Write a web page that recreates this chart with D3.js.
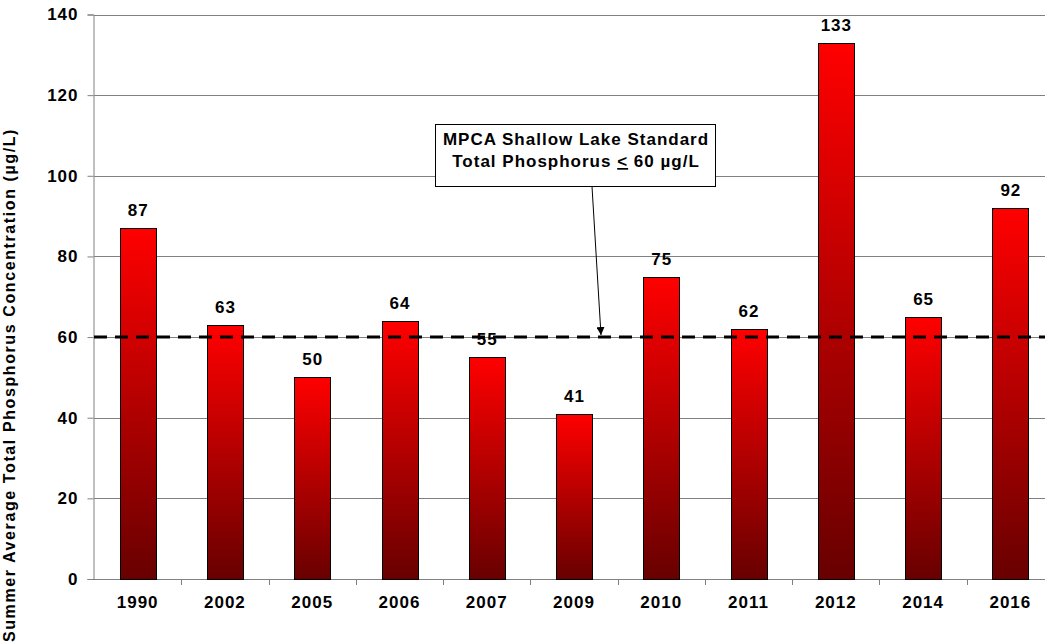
<!DOCTYPE html>
<html><head><meta charset="utf-8">
<script src="https://cdn.jsdelivr.net/npm/d3@7"></script>
<style>
html,body{margin:0;padding:0;background:#fff;overflow:hidden}
text{font-family:"Liberation Sans",Arial,sans-serif;font-weight:bold;fill:#000;letter-spacing:1px}
</style></head>
<body><svg id="c" width="1045" height="643"></svg>
<script>
const years = ["1990","2002","2005","2006","2007","2009","2010","2011","2012","2014","2016"];
const values = [87,63,50,64,55,41,75,62,133,65,92];
const yTicks = [0,20,40,60,80,100,120,140];
const standard = 60;
const yTitle = "Summer Average Total Phosphorus  Concentration (µg/L)";

const svg = d3.select("#c");
const pLeft = 94, pRight = 1054, pTop = 14.5, pBottom = 579;
const x = d3.scaleBand().domain(years).range([pLeft,pRight]).paddingInner(0.59).paddingOuter(0.295);
const xb = d3.scaleBand().domain(years).range([pLeft,pRight]);
const y = d3.scaleLinear().domain([0,140]).range([pBottom,pTop]);

const defs = svg.append("defs");
const g = defs.append("linearGradient").attr("id","bg").attr("x1",0).attr("y1",0).attr("x2",0).attr("y2",1);
g.append("stop").attr("offset","0%").attr("stop-color","#ff0000");
g.append("stop").attr("offset","100%").attr("stop-color","#680000");
const mk = defs.append("marker").attr("id","ah").attr("viewBox","0 0 10 10").attr("refX",10).attr("refY",5)
  .attr("markerWidth",8).attr("markerHeight",8).attr("markerUnits","userSpaceOnUse").attr("orient","auto");
mk.append("path").attr("d","M0,0 L10,5 L0,10 Z").attr("fill","#000");

// grid
svg.append("g").selectAll("line").data(yTicks.filter(d=>d>0)).join("line")
  .attr("x1",pLeft).attr("x2",1045).attr("y1",d=>Math.round(y(d))+0.5).attr("y2",d=>Math.round(y(d))+0.5)
  .attr("stroke","#808080").attr("stroke-width",1);

// y axis
const ya = svg.append("g").attr("transform",`translate(${pLeft-0.5},0)`)
  .call(d3.axisLeft(y).tickValues(yTicks).tickSize(6).tickPadding(9));
ya.select(".domain").attr("stroke","#808080");
ya.selectAll(".tick line").attr("stroke","#808080");
ya.selectAll("text").style("font-size","17px").style("font-family","'Liberation Sans',Arial,sans-serif").style("font-weight","bold").style("letter-spacing","1px").attr("fill","#000");

// x axis
const xa = svg.append("g").attr("transform",`translate(0,${pBottom+0.5})`)
  .call(d3.axisBottom(x).tickSize(0).tickPadding(16));
xa.select(".domain").remove();
xa.selectAll("text").style("font-size","17px").style("font-family","'Liberation Sans',Arial,sans-serif").style("font-weight","bold").style("letter-spacing","1px").attr("fill","#000");
svg.append("line").attr("x1",pLeft).attr("x2",1045).attr("y1",pBottom+0.5).attr("y2",pBottom+0.5).attr("stroke","#808080");
svg.append("g").selectAll("line").data(years).join("line")
  .attr("x1",d=>Math.round(xb(d)+xb.bandwidth())+0.5).attr("x2",d=>Math.round(xb(d)+xb.bandwidth())+0.5)
  .attr("y1",pBottom).attr("y2",pBottom+6).attr("stroke","#808080");

// bars
svg.append("g").selectAll("rect").data(values).join("rect")
  .attr("x",(d,i)=>Math.round(x(years[i]))+0.5).attr("width",Math.round(x.bandwidth()))
  .attr("y",d=>Math.round(y(d))+0.5).attr("height",d=>pBottom-Math.round(y(d)))
  .attr("fill","url(#bg)").attr("stroke","#000").attr("stroke-width",1);

// value labels
svg.append("g").selectAll("text").data(values).join("text")
  .attr("x",(d,i)=>x(years[i])+x.bandwidth()/2+0.5).attr("y",d=>y(d)-12)
  .attr("text-anchor","middle").style("font-size","17px").text(d=>d);

// standard line
svg.append("line").attr("x1",pLeft).attr("x2",1045).attr("y1",y(standard)).attr("y2",y(standard))
  .attr("stroke","#000").attr("stroke-width",3).attr("stroke-dasharray","13,8");

// annotation
const bx=435.5, by=124.5, bw=280, bh=62;
svg.append("line").attr("x1",592).attr("y1",by+bh).attr("x2",601).attr("y2",y(standard)-2)
  .attr("stroke","#000").attr("stroke-width",1).attr("marker-end","url(#ah)");
svg.append("rect").attr("x",bx).attr("y",by).attr("width",bw).attr("height",bh)
  .attr("fill","#fff").attr("stroke","#000").attr("stroke-width",1);
svg.append("text").attr("x",bx+bw/2+0.5).attr("y",145).attr("text-anchor","middle").style("font-size","17px")
  .text("MPCA Shallow Lake Standard");
const t2 = svg.append("text").attr("x",bx+bw/2+0.5).attr("y",167).attr("text-anchor","middle").style("font-size","17px");
t2.append("tspan").text("Total Phosphorus ");
t2.append("tspan").style("text-decoration","underline").text("<");
t2.append("tspan").text(" 60 µg/L");

// y title
svg.append("text").attr("transform","translate(15,385) rotate(-90)").attr("text-anchor","middle")
  .style("font-size","16px").style("letter-spacing","1.6px").text(yTitle);
</script></body></html>
